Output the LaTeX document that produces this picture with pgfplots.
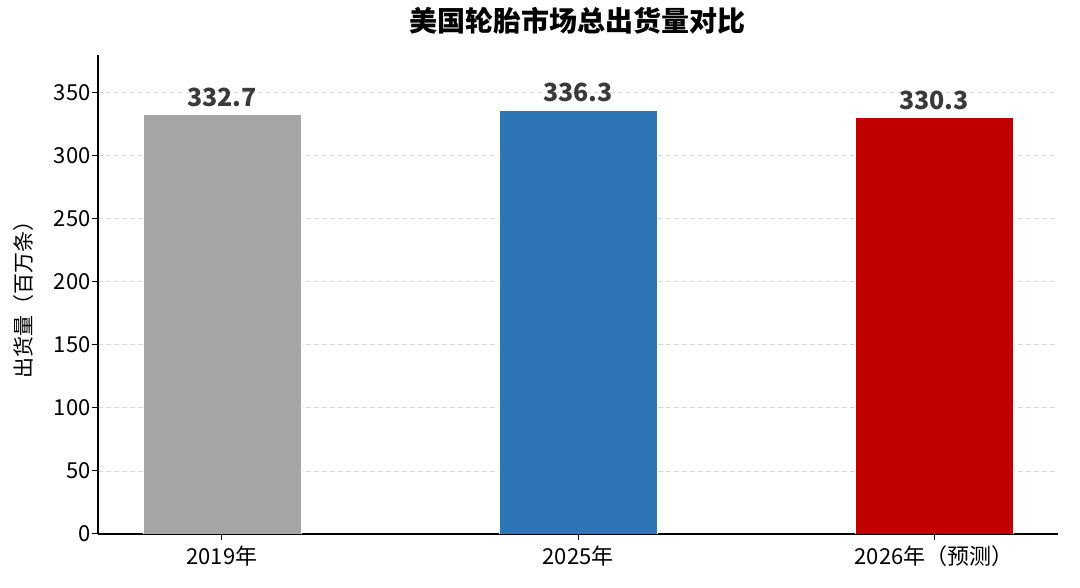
\documentclass[border=0pt]{standalone}
\usepackage{fontspec}
\setmainfont{Noto Sans CJK SC}
\usepackage{pgfplots}
\pgfplotsset{compat=1.18}
\definecolor{cgray}{HTML}{A5A5A5}
\definecolor{cblue}{HTML}{2E75B6}
\definecolor{cred}{HTML}{C00000}
\definecolor{ctext}{HTML}{3A3A3A}
\definecolor{cgrid}{HTML}{D9D9D9}
\begin{document}
\begin{tikzpicture}
\path[use as bounding box] (-98pt,-54pt) rectangle (982pt,534pt);
\begin{axis}[
  at={(0,0)}, anchor=south west,
  scale only axis, width=960pt, height=479pt,
  ybar, bar width=158pt,
  xmin=-0.348, xmax=2.348,
  ymin=0, ymax=380,
  axis x line*=bottom, axis y line*=left,
  axis line style={black, line width=1.2pt},
  xtick={0,1,2},
  xticklabels={2019年, 2025年, 2026年（预测）},
  ytick={0,50,...,350},
  tick style={black, line width=1pt},
  tick align=outside, major tick length=6pt,
  /pgf/number format/assume math mode=true,
  ticklabel style={font=\fontsize{22}{24}\selectfont},
  yticklabel style={xshift=2pt},
  xticklabel style={yshift=-2pt},
  ymajorgrids,
  grid style={cgrid, dash pattern=on 5pt off 3pt, line width=0.9pt},
  ylabel={出货量（百万条）},
  ylabel style={font=\fontsize{21}{24}\selectfont, at={(axis description cs:-0.078,0.5)}, anchor=center},
  title={美国轮胎市场总出货量对比},
  title style={font=\bfseries\fontsize{28}{30}\selectfont, at={(axis description cs:0.5,1)}, anchor=center, yshift=28pt},
  nodes near coords,
  nodes near coords style={font=\bfseries\fontsize{25}{28}\selectfont, text=ctext, /pgf/number format/fixed, /pgf/number format/fixed zerofill, /pgf/number format/precision=1, /pgf/number format/assume math mode=true, yshift=4pt},
]
\addplot[bar shift=0pt, fill=cgray, draw=white, line width=0.8pt] coordinates {(0,332.7)};
\addplot[bar shift=0pt, fill=cblue, draw=white, line width=0.8pt] coordinates {(1,336.3)};
\addplot[bar shift=0pt, fill=cred, draw=white, line width=0.8pt] coordinates {(2,330.3)};
\end{axis}
\end{tikzpicture}
\end{document}
